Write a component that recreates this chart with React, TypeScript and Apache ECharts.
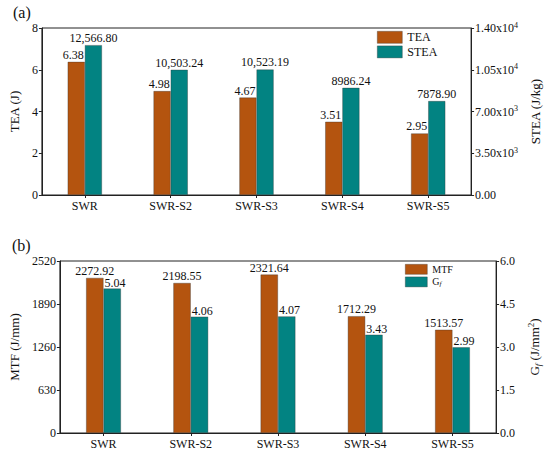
import React, { useEffect, useRef } from "react";
import * as echarts from "echarts";

const categories = ["SWR", "SWR-S2", "SWR-S3", "SWR-S4", "SWR-S5"];
const teaValues = [6.38, 4.98, 4.67, 3.51, 2.95];
const steaValues = [12566.8, 10503.24, 10523.19, 8986.24, 7878.9];
const mtfValues = [2272.92, 2198.55, 2321.64, 1712.29, 1513.57];
const gfValues = [5.04, 4.06, 4.07, 3.43, 2.99];

const FONT = "Liberation Serif";
const BROWN = "#B4540F";
const TEAL = "#028382";
const AXIS = "#222";

const fmtStea = (v: number) =>
  v >= 10000
    ? v.toLocaleString("en-US", { minimumFractionDigits: 2, maximumFractionDigits: 2 })
    : v.toFixed(2);

const sciLabel = (v: number) => {
  if (v === 0) return "{b|0.00}";
  const e = Math.floor(Math.log10(v));
  const m = v / Math.pow(10, e);
  return `{b|${m.toFixed(2)}x10}{s|${e}}`;
};

export default function App() {
  const ref = useRef<HTMLDivElement>(null);
  useEffect(() => {
    document.body.style.margin = "0";
    const chart = echarts.init(ref.current!, null, { renderer: "svg" });
    const axisText = { fontFamily: FONT, fontSize: 12, color: "#111" };
    const nameText = { fontFamily: FONT, fontSize: 13, color: "#111" };
    const barBorder = { borderColor: "rgba(50,50,50,0.6)", borderWidth: 0.6 };
    const valueAxisCommon = {
      type: "value" as const,
      nameLocation: "middle" as const,
      axisLine: { show: true, lineStyle: { color: AXIS, width: 1 } },
      axisTick: { show: true, length: 3, inside: false, lineStyle: { color: AXIS } },
      splitLine: { show: false },
    };
    const option: any = {
      animation: false,
      backgroundColor: "#fff",
      textStyle: { fontFamily: FONT },
      graphic: [
        { type: "text", left: 13, top: 4, style: { text: "(a)", fontFamily: FONT, fontSize: 16, fill: "#111" } },
        { type: "text", left: 12, top: 237, style: { text: "(b)", fontFamily: FONT, fontSize: 16, fill: "#111" } },
      ],
      grid: [
        { left: 41, right: 64, top: 28, height: 167, show: true, borderColor: AXIS, borderWidth: 1 },
        { left: 48, right: 44, top: 261, height: 172, show: true, borderColor: AXIS, borderWidth: 1 },
      ],
      legend: [
        {
          data: ["TEA", "STEA"],
          orient: "vertical",
          left: 377,
          top: 31,
          padding: 0,
          itemWidth: 25,
          itemHeight: 12,
          itemGap: 2,
          icon: "rect",
          textStyle: { fontFamily: FONT, fontSize: 12, color: "#111" },
          itemStyle: { borderColor: "rgba(50,50,50,0.6)", borderWidth: 0.6 },
        },
        {
          data: ["MTF", "Gf"],
          orient: "vertical",
          left: 405,
          top: 264,
          padding: 0,
          itemWidth: 22,
          itemHeight: 10,
          itemGap: 2,
          icon: "rect",
          formatter: (n: string) => (n === "Gf" ? "{n|G}{f|f}" : "{n|" + n + "}"),
          textStyle: {
            fontFamily: FONT,
            fontSize: 10,
            color: "#111",
            rich: {
              n: { fontFamily: FONT, fontSize: 10, color: "#111", lineHeight: 12 },
              f: { fontFamily: FONT, fontSize: 7, fontStyle: "italic", color: "#111", lineHeight: 8, verticalAlign: "bottom" },
            },
          },
          itemStyle: { borderColor: "rgba(50,50,50,0.6)", borderWidth: 0.6 },
        },
      ],
      xAxis: [0, 1].map((g) => ({
        type: "category",
        gridIndex: g,
        data: categories,
        axisLine: { show: true, lineStyle: { color: AXIS, width: 1 } },
        axisTick: { show: true, alignWithLabel: true, length: 3, lineStyle: { color: AXIS } },
        axisLabel: { ...axisText, margin: 5 },
      })),
      yAxis: [
        {
          ...valueAxisCommon,
          gridIndex: 0,
          position: "left",
          min: 0,
          max: 8,
          interval: 2,
          name: "TEA (J)",
          nameGap: 16,
          nameTextStyle: nameText,
          axisLabel: { ...axisText, margin: 4 },
        },
        {
          ...valueAxisCommon,
          gridIndex: 0,
          position: "right",
          min: 0,
          max: 14000,
          interval: 3500,
          name: "STEA (J/kg)",
          nameGap: 54,
          nameTextStyle: nameText,
          axisLabel: {
            margin: 4,
            formatter: sciLabel,
            rich: {
              b: { ...axisText, lineHeight: 14 },
              s: { fontFamily: FONT, fontSize: 8, color: "#111", lineHeight: 8, verticalAlign: "top" },
            },
          },
        },
        {
          ...valueAxisCommon,
          gridIndex: 1,
          position: "left",
          min: 0,
          max: 2520,
          interval: 630,
          name: "MTF (J/mm)",
          nameGap: 33,
          nameTextStyle: nameText,
          axisLabel: { ...axisText, margin: 4, formatter: (v: number) => String(v) },
        },
        {
          ...valueAxisCommon,
          gridIndex: 1,
          position: "right",
          min: 0,
          max: 6,
          interval: 1.5,
          name: "{n|G}{f|f}{n| (J/mm}{s|2}{n|)}",
          nameGap: 23,
          nameTextStyle: {
            ...nameText,
            rich: {
              n: { ...nameText, lineHeight: 16 },
              f: { fontFamily: FONT, fontSize: 9, fontStyle: "italic", color: "#111", lineHeight: 9, verticalAlign: "bottom" },
              s: { fontFamily: FONT, fontSize: 9, color: "#111", lineHeight: 9, verticalAlign: "top" },
            },
          },
          axisLabel: { ...axisText, margin: 4, formatter: (v: number) => v.toFixed(1) },
        },
      ],
      series: [
        {
          name: "TEA",
          type: "bar",
          xAxisIndex: 0,
          yAxisIndex: 0,
          data: teaValues,
          barWidth: "20%",
          barGap: "0%",
          itemStyle: { color: BROWN, ...barBorder },
          label: {
            show: true,
            position: ["100%", 0],
            align: "right",
            verticalAlign: "bottom",
            offset: [-1, -1],
            ...axisText,
            formatter: (p: any) => p.value.toFixed(2),
          },
        },
        {
          name: "STEA",
          type: "bar",
          xAxisIndex: 0,
          yAxisIndex: 1,
          data: steaValues,
          barWidth: "20%",
          barGap: "0%",
          itemStyle: { color: TEAL, ...barBorder },
          label: {
            show: true,
            position: "top",
            distance: 1,
            ...axisText,
            formatter: (p: any) => fmtStea(p.value),
          },
        },
        {
          name: "MTF",
          type: "bar",
          xAxisIndex: 1,
          yAxisIndex: 2,
          data: mtfValues,
          barWidth: "20%",
          barGap: "0%",
          itemStyle: { color: BROWN, ...barBorder },
          label: {
            show: true,
            position: "top",
            distance: 1,
            ...axisText,
            formatter: (p: any) => p.value.toFixed(2),
          },
        },
        {
          name: "Gf",
          type: "bar",
          xAxisIndex: 1,
          yAxisIndex: 3,
          data: gfValues,
          barWidth: "20%",
          barGap: "0%",
          itemStyle: { color: TEAL, ...barBorder },
          label: {
            show: true,
            position: [0, 0],
            align: "left",
            verticalAlign: "bottom",
            offset: [1, 0],
            ...axisText,
            formatter: (p: any) => p.value.toFixed(2),
          },
        },
      ],
    };
    chart.setOption(option);
    return () => chart.dispose();
  }, []);
  return <div ref={ref} style={{ width: 550, height: 452 }} />;
}
